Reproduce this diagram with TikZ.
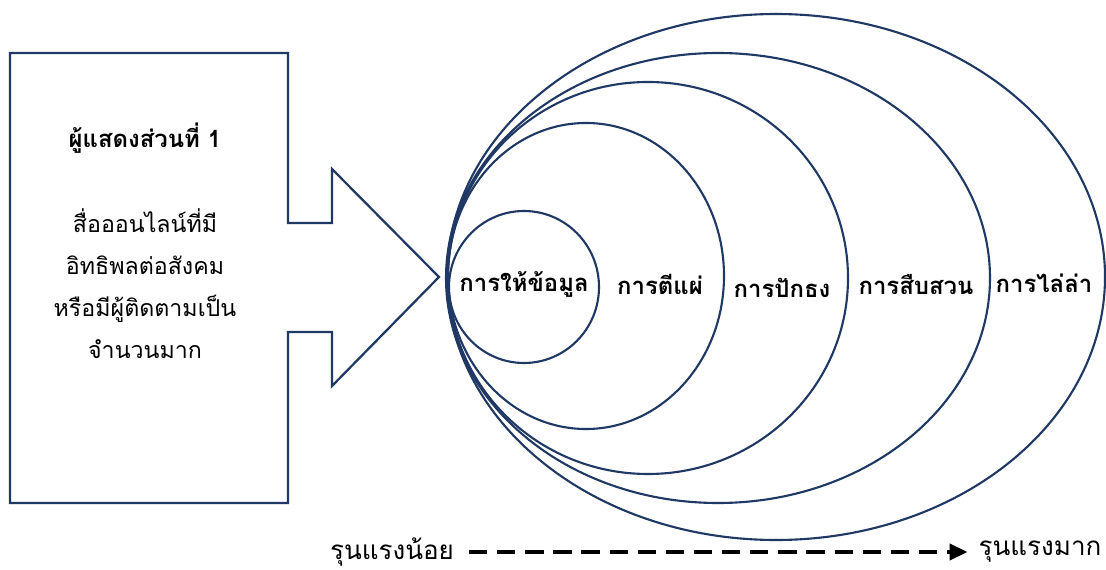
\documentclass[tikz,border=0pt]{standalone}
\usepackage{fontspec}
\usepackage{xcolor}
\usetikzlibrary{arrows.meta,shapes.geometric,positioning}
\newfontfamily\thaifont[Script=Thai]{Loma}
\definecolor{navyLine}{HTML}{1F3864}
\tikzset{
  font=\thaifont,
  actorbox/.style={draw=navyLine,line width=1.6pt,line join=miter,fill=white},
  ring/.style={ellipse,draw=navyLine,line width=1.5pt,inner sep=0pt},
  ringlabel/.style={font=\thaifont\bfseries\fontsize{17}{20}\selectfont,inner sep=1pt},
  actortitle/.style={font=\thaifont\bfseries\fontsize{17}{20}\selectfont,align=center},
  actortext/.style={font=\thaifont\fontsize{16.5}{29.9}\selectfont,align=center},
  scalelabel/.style={font=\thaifont\fontsize{18.5}{20}\selectfont,inner sep=2pt},
  scalearrow/.style={-{Triangle[length=4.5mm,width=4mm]},draw=black,line width=2.8pt,
    dash pattern=on 13pt off 7pt,shorten <=3mm,shorten >=2mm},
}
\begin{document}
\begin{tikzpicture}[x=1cm,y=1cm]

\fill[white] (0,0) rectangle (27.65,14.225);
\useasboundingbox (0,0) rectangle (27.65,14.225);

% box with arrow pointing into the rings
\draw[actorbox] (0.25,12.9) -- (7.2,12.9) -- (7.2,8.65) -- (8.3,8.65) -- (8.3,10.0)
  -- (10.975,7.3) -- (8.3,4.575) -- (8.3,5.925) -- (7.2,5.925) -- (7.2,1.65)
  -- (0.25,1.65) -- cycle;

\node[actortitle] (actor) at (3.625,10.775) {ผู้แสดงส่วนที่ 1};
\node[actortext]  (media) at (3.625,7.125)
  {สื่อออนไลน์ที่มี\\อิทธิพลต่อสังคม\\หรือมีผู้ติดตามเป็น\\จำนวนมาก};

% rings, outer first
\node[ring,minimum width=16.45cm,minimum height=13.15cm] (hunt)   at (19.4,7.3)   {};
\node[ring,minimum width=13.6cm, minimum height=11.25cm] (probe)  at (17.95,7.275) {};
\node[ring,minimum width=10.0cm, minimum height=9.8cm]   (pin)    at (16.2,7.275)  {};
\node[ring,minimum width=6.9cm,  minimum height=7.65cm]  (expose) at (14.65,7.325) {};
\node[ring,minimum width=3.75cm, minimum height=3.8cm]   (inform) at (13.1,7.05)   {};

\node[ringlabel] (informtxt) at (13.1,7.125)  {การให้ข้อมูล};
\node[ringlabel] (exposetxt) at (16.5,7.125)  {การตีแผ่};
\node[ringlabel] (pintxt)    at (19.55,7.025) {การปักธง};
\node[ringlabel] (probetxt)  at (22.9,7.1)    {การสืบสวน};
\node[ringlabel] (hunttxt)   at (26.1,7.15)   {การไล่ล่า};

% severity scale
\node[scalelabel] (low)  at (9.8,0.425)  {รุนแรงน้อย};
\node[scalelabel] (high) at (26.0,0.425) {รุนแรงมาก};
\draw[scalearrow] (low.east) -- (high.west);

\end{tikzpicture}
\end{document}
